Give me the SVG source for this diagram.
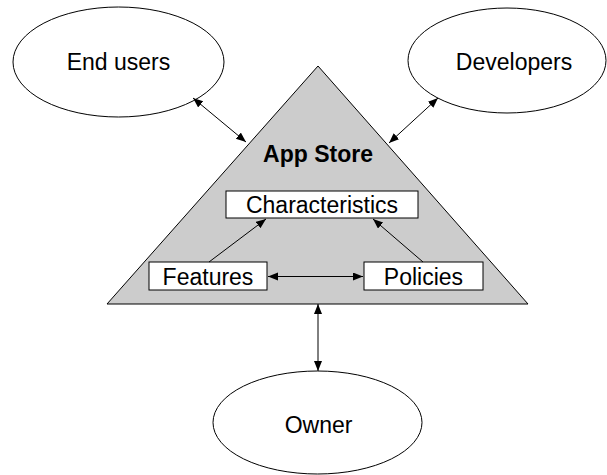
<svg xmlns="http://www.w3.org/2000/svg" width="607" height="475" viewBox="0 0 607 475">
  <style>
    .actor { fill: #ffffff; stroke: #000000; stroke-width: 1; }
    .store { fill: #cccccc; stroke: #000000; stroke-width: 1; }
    .box { fill: #ffffff; stroke: #000000; stroke-width: 1; }
    .label { font-family: "Liberation Sans", Arial, sans-serif; font-size: 23px; fill: #000000; text-anchor: middle; }
    .title { font-weight: bold; }
    .link { stroke: #000000; stroke-width: 1; fill: none; }
  </style>
  <defs>
    <marker id="head" markerUnits="userSpaceOnUse" markerWidth="11" markerHeight="9" refX="10" refY="4" orient="auto-start-reverse">
      <path d="M0,0 L10,4 L0,8 Z" fill="#000000"/>
    </marker>
  </defs>

  <rect width="607" height="475" fill="#ffffff"/>

  <g id="app-store">
    <polygon class="store" points="318,66 528,304 107,304"/>
    <text class="label title" x="318" y="162">App Store</text>
  </g>

  <g id="end-users">
    <ellipse class="actor" cx="118.5" cy="62" rx="105.5" ry="55"/>
    <text class="label" x="118.5" y="70">End users</text>
  </g>

  <g id="developers">
    <ellipse class="actor" cx="507" cy="60.5" rx="99" ry="52.5"/>
    <text class="label" x="514" y="70">Developers</text>
  </g>

  <g id="owner">
    <ellipse class="actor" cx="317.5" cy="422.5" rx="104.5" ry="51.5"/>
    <text class="label" x="318.5" y="432.5">Owner</text>
  </g>

  <g id="characteristics">
    <rect class="box" x="226" y="191" width="192" height="27"/>
    <text class="label" x="322" y="213">Characteristics</text>
  </g>

  <g id="features">
    <rect class="box" x="149" y="262" width="118" height="28"/>
    <text class="label" x="208" y="285">Features</text>
  </g>

  <g id="policies">
    <rect class="box" x="364" y="262" width="119" height="28"/>
    <text class="label" x="423.5" y="285">Policies</text>
  </g>

  <g id="connectors">
    <line class="link" x1="193" y1="98" x2="246" y2="142" marker-start="url(#head)" marker-end="url(#head)"/>
    <line class="link" x1="438" y1="98" x2="389" y2="143" marker-start="url(#head)" marker-end="url(#head)"/>
    <line class="link" x1="318" y1="304" x2="318" y2="371" marker-start="url(#head)" marker-end="url(#head)"/>
    <line class="link" x1="268" y1="276.5" x2="363" y2="276.5" marker-start="url(#head)" marker-end="url(#head)"/>
    <line class="link" x1="209" y1="262" x2="266" y2="219" marker-end="url(#head)"/>
    <line class="link" x1="423" y1="262" x2="373" y2="219" marker-end="url(#head)"/>
  </g>
</svg>
